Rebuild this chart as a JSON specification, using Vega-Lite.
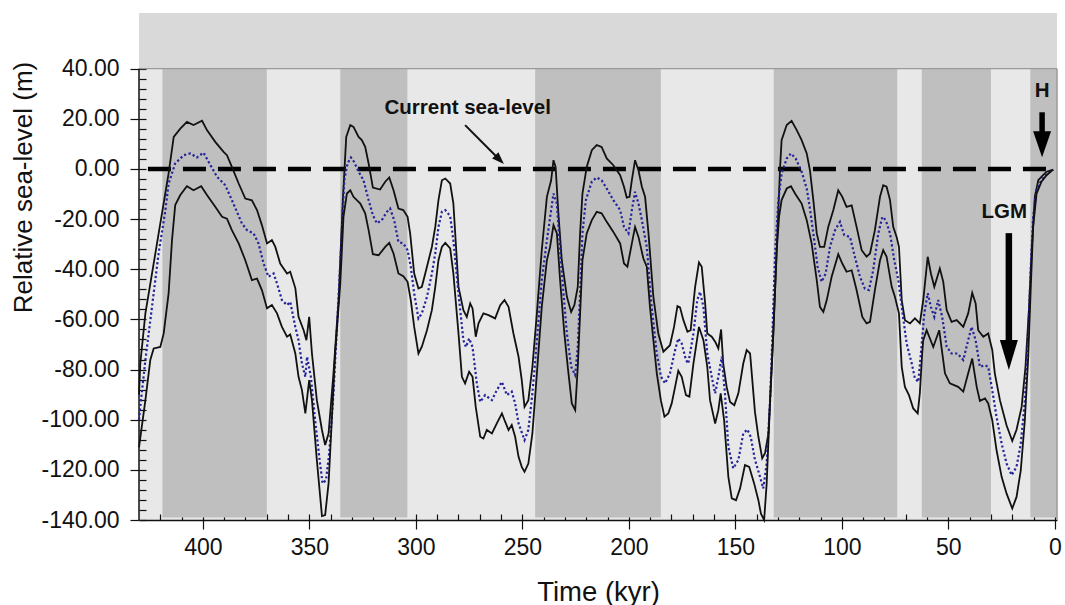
{
  "$schema": "https://vega.github.io/schema/vega-lite/v6.json",
  "width": 918,
  "height": 507,
  "autosize": {"type": "none"},
  "padding": {"left": 139, "top": 13, "right": 8, "bottom": 85},
  "background": "white",
  "config": {
    "font": "Liberation Sans",
    "view": {"stroke": null, "fill": "#e8e8e8"},
    "axis": {"grid": false, "labelColor": "#111", "titleColor": "#111", "tickColor": "#111", "domainColor": "#111", "titleFontWeight": "normal", "labelFlush": false, "labelOverlap": false}
  },
  "datasets": {
    "upper": [{"t":430,"v":-90},{"t":429.4,"v":-77.6},{"t":427,"v":-57.6},{"t":416.1,"v":-1.8},{"t":413.7,"v":12.8},{"t":410.6,"v":16.1},{"t":407.5,"v":18.8},{"t":404.4,"v":17.5},{"t":400.4,"v":19.2},{"t":398.1,"v":15.5},{"t":394.2,"v":10.8},{"t":390.3,"v":6.8},{"t":388.7,"v":5.5},{"t":386.4,"v":0.8},{"t":383.2,"v":-5.8},{"t":380.1,"v":-11.8},{"t":377,"v":-12.5},{"t":374.6,"v":-16.4},{"t":372.3,"v":-22.4},{"t":369.9,"v":-29.7},{"t":367.6,"v":-28.4},{"t":366,"v":-31.1},{"t":363.7,"v":-37.7},{"t":360.5,"v":-41.7},{"t":359,"v":-41},{"t":356.6,"v":-47.5},{"t":355.1,"v":-59},{"t":352.7,"v":-64.3},{"t":351.4,"v":-68.3},{"t":350.1,"v":-59},{"t":348.8,"v":-73.6},{"t":346.5,"v":-92.2},{"t":344.1,"v":-104.1},{"t":342.6,"v":-110.1},{"t":341,"v":-105.5},{"t":338.7,"v":-81.5},{"t":336.3,"v":-52.3},{"t":334.3,"v":-12.4},{"t":332.7,"v":12.8},{"t":330.8,"v":17.5},{"t":329.3,"v":16.8},{"t":326.9,"v":12.8},{"t":325.4,"v":11.5},{"t":323.8,"v":8.8},{"t":322.2,"v":2.2},{"t":320.2,"v":-7.4},{"t":316.8,"v":-8.2},{"t":314.4,"v":-5.1},{"t":312.5,"v":-3.4},{"t":310.5,"v":-8.5},{"t":308.2,"v":-15.8},{"t":305.9,"v":-16.4},{"t":303.9,"v":-19.1},{"t":302.7,"v":-25.7},{"t":300.8,"v":-41.7},{"t":298.8,"v":-47.7},{"t":297.2,"v":-47},{"t":294.8,"v":-39},{"t":292.5,"v":-31.1},{"t":290.9,"v":-23.1},{"t":289.4,"v":-12.4},{"t":287.8,"v":-4.5},{"t":286.2,"v":-3.8},{"t":283.9,"v":-5.8},{"t":282.4,"v":-13.8},{"t":280,"v":-47},{"t":277.7,"v":-56.3},{"t":276.1,"v":-59},{"t":274.5,"v":-53.6},{"t":273.4,"v":-55.6},{"t":271.9,"v":-66.9},{"t":270.6,"v":-61.6},{"t":268.3,"v":-57.6},{"t":265.9,"v":-58.3},{"t":262.8,"v":-59.6},{"t":260.4,"v":-54.3},{"t":258.4,"v":-52.3},{"t":256.5,"v":-55},{"t":254.2,"v":-65.6},{"t":251.8,"v":-74.9},{"t":250.3,"v":-84.2},{"t":249,"v":-94.9},{"t":247.2,"v":-92.2},{"t":245.3,"v":-78.9},{"t":243.2,"v":-57.6},{"t":240.9,"v":-32.4},{"t":238.5,"v":-11.1},{"t":236.5,"v":-4.5},{"t":235.4,"v":3.5},{"t":234.4,"v":0.8},{"t":233.1,"v":-17.7},{"t":231.5,"v":-36.4},{"t":229.1,"v":-51},{"t":227.1,"v":-57},{"t":225.6,"v":-54.3},{"t":224,"v":-47},{"t":222.9,"v":-25.7},{"t":221.8,"v":-9.8},{"t":219.8,"v":0.8},{"t":217.4,"v":7.5},{"t":215.1,"v":9.5},{"t":212.8,"v":8.8},{"t":210.4,"v":4.2},{"t":207.3,"v":1.5},{"t":204.1,"v":-2.5},{"t":202.3,"v":-7.1},{"t":201,"v":-11.4},{"t":199.7,"v":-11.1},{"t":198.6,"v":-4.5},{"t":197.1,"v":3.5},{"t":195.5,"v":-0.5},{"t":193.9,"v":-7.1},{"t":192.4,"v":-11.1},{"t":190.8,"v":-25.7},{"t":188.5,"v":-51},{"t":186.2,"v":-65.6},{"t":183.8,"v":-72.9},{"t":180.7,"v":-70.3},{"t":178.8,"v":-63},{"t":177.2,"v":-54.7},{"t":176,"v":-55.2},{"t":174.4,"v":-60.3},{"t":172.5,"v":-64.9},{"t":171,"v":-64.3},{"t":168.9,"v":-47},{"t":167.1,"v":-37.3},{"t":165.8,"v":-39},{"t":164.2,"v":-53.6},{"t":163.2,"v":-65.6},{"t":161.1,"v":-66.9},{"t":159.5,"v":-68.9},{"t":158,"v":-71.6},{"t":156.7,"v":-64},{"t":155.7,"v":-77.6},{"t":154.1,"v":-86.9},{"t":152.5,"v":-92.9},{"t":150.5,"v":-94.2},{"t":148.6,"v":-89.5},{"t":146.3,"v":-77.6},{"t":144.7,"v":-72.2},{"t":143.1,"v":-73.6},{"t":140.8,"v":-97},{"t":139.2,"v":-106.8},{"t":137.4,"v":-115.4},{"t":136.1,"v":-113.4},{"t":134.5,"v":-105.5},{"t":133.3,"v":-85.5},{"t":132.2,"v":-65.6},{"t":130.6,"v":-32.4},{"t":129,"v":0.8},{"t":128.3,"v":11.5},{"t":125.9,"v":17.5},{"t":123.6,"v":19.2},{"t":121.2,"v":15.5},{"t":118.9,"v":11.5},{"t":116.5,"v":6.2},{"t":115,"v":-0.5},{"t":113.4,"v":-12.4},{"t":111.8,"v":-25.7},{"t":110.3,"v":-31.1},{"t":108.3,"v":-31.1},{"t":106.4,"v":-23.1},{"t":104,"v":-16.4},{"t":101.7,"v":-8.5},{"t":99.8,"v":-11.1},{"t":97.8,"v":-15.1},{"t":95.4,"v":-14.5},{"t":93.1,"v":-23.1},{"t":90.7,"v":-32.4},{"t":88.4,"v":-35},{"t":86.8,"v":-33.7},{"t":84.5,"v":-24.4},{"t":82.1,"v":-11.1},{"t":80.6,"v":-6.5},{"t":79,"v":-7.1},{"t":77.4,"v":-12.4},{"t":75.9,"v":-23.1},{"t":74.3,"v":-27.1},{"t":73.2,"v":-31.1},{"t":71.9,"v":-52.3},{"t":70.4,"v":-60.3},{"t":68,"v":-61.6},{"t":65.7,"v":-59.6},{"t":63.4,"v":-61.6},{"t":61.8,"v":-52.3},{"t":59.7,"v":-35},{"t":58.2,"v":-41.7},{"t":56.6,"v":-47},{"t":54,"v":-39.7},{"t":52.4,"v":-45},{"t":50.8,"v":-56.3},{"t":48.5,"v":-61},{"t":46.1,"v":-60.3},{"t":43,"v":-63},{"t":40.7,"v":-57.6},{"t":38.8,"v":-49.4},{"t":37.2,"v":-53.6},{"t":36,"v":-64.3},{"t":33.6,"v":-66.9},{"t":31.3,"v":-65.6},{"t":29.4,"v":-72.2},{"t":28.2,"v":-81.5},{"t":25.8,"v":-92.2},{"t":22.7,"v":-102.2},{"t":20,"v":-108.5},{"t":18,"v":-104},{"t":15.6,"v":-94.9},{"t":13.8,"v":-78.9},{"t":12.2,"v":-56.3},{"t":10.9,"v":-32.4},{"t":9.4,"v":-11.1},{"t":7.8,"v":-4.5},{"t":6,"v":-2.9},{"t":3.9,"v":-1.1},{"t":1.5,"v":-0.5},{"t":0.8,"v":-0.2}],
    "lower": [{"t":430,"v":-111},{"t":427,"v":-92.2},{"t":424.7,"v":-76.2},{"t":423.1,"v":-71.6},{"t":420,"v":-71},{"t":418.4,"v":-65.6},{"t":416.1,"v":-49.6},{"t":414.5,"v":-28.4},{"t":413,"v":-14.4},{"t":410.6,"v":-10.4},{"t":407.5,"v":-6.9},{"t":404.4,"v":-8.5},{"t":400.8,"v":-6.9},{"t":398.1,"v":-10.4},{"t":394.2,"v":-15.1},{"t":391,"v":-19.1},{"t":388.7,"v":-19.8},{"t":386.4,"v":-24.4},{"t":383.2,"v":-29.7},{"t":380.1,"v":-36.4},{"t":377,"v":-44.3},{"t":374.6,"v":-43.7},{"t":372.3,"v":-48.3},{"t":369.9,"v":-55.6},{"t":367.6,"v":-54.3},{"t":365.2,"v":-57.6},{"t":362.9,"v":-63},{"t":360.5,"v":-66.9},{"t":359,"v":-66},{"t":356.6,"v":-73.6},{"t":355.1,"v":-82.9},{"t":353.5,"v":-88.2},{"t":351.9,"v":-97.5},{"t":350.1,"v":-84.2},{"t":348.8,"v":-92.2},{"t":346.5,"v":-116.1},{"t":344.1,"v":-138.4},{"t":342.6,"v":-138},{"t":341,"v":-125.4},{"t":339.4,"v":-98.8},{"t":337.9,"v":-73.6},{"t":335.5,"v":-45.7},{"t":334,"v":-19.1},{"t":332.4,"v":-9.8},{"t":330.8,"v":-8.5},{"t":329.3,"v":-11.1},{"t":326.1,"v":-13.8},{"t":323.8,"v":-17.7},{"t":322.2,"v":-24.4},{"t":320.2,"v":-34},{"t":317.5,"v":-34.4},{"t":314.4,"v":-31.1},{"t":312.5,"v":-29.5},{"t":310.5,"v":-33.7},{"t":308.2,"v":-41.7},{"t":305.9,"v":-42.8},{"t":303.9,"v":-45},{"t":302.4,"v":-52.3},{"t":300.8,"v":-63},{"t":298.8,"v":-73.6},{"t":297.2,"v":-70.9},{"t":294.8,"v":-64.3},{"t":292.5,"v":-56.3},{"t":290.9,"v":-47},{"t":289.4,"v":-36.4},{"t":287.8,"v":-31.1},{"t":286.2,"v":-29.5},{"t":283.9,"v":-31.7},{"t":282.4,"v":-41.7},{"t":280,"v":-65.6},{"t":278.4,"v":-82.9},{"t":276.9,"v":-85.5},{"t":275,"v":-80.9},{"t":273.4,"v":-82.9},{"t":271.9,"v":-94.9},{"t":269.8,"v":-106.8},{"t":268.3,"v":-107.5},{"t":266.7,"v":-104.1},{"t":264.3,"v":-105.5},{"t":262,"v":-101.5},{"t":259.6,"v":-97.5},{"t":258.1,"v":-100.8},{"t":256.5,"v":-104.1},{"t":255,"v":-102.1},{"t":253.4,"v":-106.8},{"t":251.8,"v":-114.8},{"t":250.3,"v":-118.8},{"t":249,"v":-120.8},{"t":247.2,"v":-117.5},{"t":245.3,"v":-105.5},{"t":243.2,"v":-81.6},{"t":240.9,"v":-55},{"t":238.5,"v":-36.4},{"t":237,"v":-31.1},{"t":235.4,"v":-22.4},{"t":233.8,"v":-25.7},{"t":232.3,"v":-44.3},{"t":230.3,"v":-65.6},{"t":228.7,"v":-78.9},{"t":226.8,"v":-93.5},{"t":225.2,"v":-96.2},{"t":224,"v":-78.9},{"t":222.9,"v":-57.6},{"t":221.8,"v":-36.4},{"t":219.8,"v":-25.7},{"t":217.4,"v":-20.4},{"t":215.1,"v":-17.1},{"t":212.8,"v":-17.7},{"t":210.4,"v":-21.1},{"t":207.3,"v":-25.1},{"t":204.1,"v":-29.7},{"t":202.3,"v":-37.7},{"t":200.7,"v":-39},{"t":198.6,"v":-29.7},{"t":197.1,"v":-23.1},{"t":195.5,"v":-27.1},{"t":193.2,"v":-35.7},{"t":191.6,"v":-39},{"t":190.1,"v":-55},{"t":188.5,"v":-68.3},{"t":186.9,"v":-81.5},{"t":185,"v":-92.2},{"t":183.3,"v":-98.8},{"t":181.5,"v":-97.5},{"t":179.9,"v":-93.5},{"t":178.3,"v":-86.9},{"t":176.8,"v":-80.5},{"t":175.2,"v":-82.9},{"t":173.2,"v":-90.2},{"t":171.6,"v":-90.8},{"t":169.7,"v":-77.6},{"t":167.1,"v":-63},{"t":165,"v":-68.3},{"t":163.2,"v":-78.9},{"t":161.9,"v":-92.2},{"t":159.5,"v":-101.5},{"t":158,"v":-96.2},{"t":156.9,"v":-89.5},{"t":155.3,"v":-100.2},{"t":153.3,"v":-122.8},{"t":151.7,"v":-131.4},{"t":149.7,"v":-132.1},{"t":147.8,"v":-127.4},{"t":145.5,"v":-118.1},{"t":143.5,"v":-118.8},{"t":141.2,"v":-125.4},{"t":139.2,"v":-132.1},{"t":138,"v":-137.5},{"t":136.5,"v":-140},{"t":135.3,"v":-125.4},{"t":133.7,"v":-92.2},{"t":132.2,"v":-65.6},{"t":130.6,"v":-32.4},{"t":129.5,"v":-19.1},{"t":128.3,"v":-12.4},{"t":125.9,"v":-7.8},{"t":123.9,"v":-6.9},{"t":122,"v":-9.8},{"t":118.9,"v":-13.8},{"t":116.5,"v":-20.4},{"t":114.2,"v":-29.7},{"t":111.8,"v":-44.3},{"t":110.3,"v":-55},{"t":108.7,"v":-57},{"t":107.1,"v":-52.3},{"t":104.8,"v":-43},{"t":101.7,"v":-34},{"t":99.8,"v":-37.7},{"t":97.8,"v":-41},{"t":95.4,"v":-40.4},{"t":93.1,"v":-48.3},{"t":90.4,"v":-59},{"t":88.4,"v":-61.6},{"t":86.8,"v":-61},{"t":84.5,"v":-48.3},{"t":82.1,"v":-36.4},{"t":80.6,"v":-32.4},{"t":79,"v":-35},{"t":76.6,"v":-47},{"t":75.1,"v":-51},{"t":73.2,"v":-57.6},{"t":71.9,"v":-78.9},{"t":70.4,"v":-86.9},{"t":68.5,"v":-90.2},{"t":66.5,"v":-95.5},{"t":64.4,"v":-97.5},{"t":63.4,"v":-89.5},{"t":62.3,"v":-73.6},{"t":61.8,"v":-68.3},{"t":60.2,"v":-64.3},{"t":57.1,"v":-71},{"t":54.3,"v":-64.3},{"t":51.6,"v":-81.5},{"t":49.3,"v":-85.5},{"t":45.4,"v":-86.9},{"t":43,"v":-88.8},{"t":40.7,"v":-81.5},{"t":38.8,"v":-75.6},{"t":36.7,"v":-86.9},{"t":35.2,"v":-92.5},{"t":32.8,"v":-91.5},{"t":31.3,"v":-93.5},{"t":29.4,"v":-100.2},{"t":27.4,"v":-112.1},{"t":25,"v":-122.8},{"t":22.7,"v":-129.4},{"t":20,"v":-135.4},{"t":18,"v":-130.8},{"t":16,"v":-120.1},{"t":14.1,"v":-100.2},{"t":12.5,"v":-74.9},{"t":11.3,"v":-47},{"t":10.2,"v":-23.1},{"t":8.6,"v":-9.8},{"t":6.3,"v":-5.1},{"t":3.9,"v":-2.5},{"t":1.5,"v":-0.7},{"t":0.8,"v":-0.3}],
    "mean": [{"t":430,"v":-100},{"t":429.4,"v":-94.9},{"t":427,"v":-76.2},{"t":423.9,"v":-55},{"t":420.8,"v":-33.7},{"t":417.6,"v":-16.4},{"t":416.1,"v":-5.8},{"t":413,"v":2.2},{"t":409,"v":5.5},{"t":405.9,"v":6.2},{"t":402.8,"v":4.6},{"t":399.7,"v":6.5},{"t":397.3,"v":2.8},{"t":393.4,"v":-3.1},{"t":389.5,"v":-6.5},{"t":386.4,"v":-12.4},{"t":381.7,"v":-21.7},{"t":379.3,"v":-24.4},{"t":376.2,"v":-25.7},{"t":373.9,"v":-29.7},{"t":371.5,"v":-37.7},{"t":369.2,"v":-43},{"t":366.8,"v":-41.7},{"t":365.2,"v":-45.7},{"t":362.9,"v":-52.3},{"t":360.5,"v":-54.3},{"t":359,"v":-53},{"t":356.6,"v":-63},{"t":355.1,"v":-68.3},{"t":353.5,"v":-77.6},{"t":351.9,"v":-82.9},{"t":351.1,"v":-74.9},{"t":349.3,"v":-82.9},{"t":347.3,"v":-100.2},{"t":345.2,"v":-116.1},{"t":343.8,"v":-125.4},{"t":342.2,"v":-124.1},{"t":340.7,"v":-113.4},{"t":338.7,"v":-89.5},{"t":336.8,"v":-59},{"t":335.2,"v":-32.4},{"t":333.6,"v":-4.5},{"t":332.1,"v":2.2},{"t":330.5,"v":4.6},{"t":329,"v":2.8},{"t":326.9,"v":-1.1},{"t":324.6,"v":-4.5},{"t":322.2,"v":-12.4},{"t":320.2,"v":-18.4},{"t":318.3,"v":-21.7},{"t":316,"v":-20.4},{"t":313.6,"v":-17.1},{"t":312.1,"v":-15.8},{"t":310.2,"v":-20.4},{"t":308.2,"v":-29.1},{"t":305.9,"v":-29.7},{"t":303.9,"v":-32.4},{"t":302.4,"v":-39},{"t":300.8,"v":-49.6},{"t":298.8,"v":-59.6},{"t":297.2,"v":-57.6},{"t":294.8,"v":-51},{"t":292.5,"v":-41.7},{"t":290.9,"v":-33.7},{"t":289.4,"v":-23.1},{"t":287.8,"v":-17.1},{"t":286.2,"v":-16.4},{"t":283.9,"v":-18.8},{"t":282.4,"v":-28.4},{"t":280,"v":-49.6},{"t":277.7,"v":-68.3},{"t":276.5,"v":-71},{"t":275,"v":-67.6},{"t":273.4,"v":-71},{"t":271.4,"v":-85.5},{"t":269.8,"v":-92.9},{"t":267.5,"v":-90.2},{"t":264.3,"v":-92.2},{"t":262,"v":-88.2},{"t":259.6,"v":-84.9},{"t":257.3,"v":-90.2},{"t":255,"v":-88.8},{"t":253.4,"v":-93.5},{"t":251.8,"v":-101.5},{"t":249,"v":-108.1},{"t":247.2,"v":-104.1},{"t":245.3,"v":-89.5},{"t":243.2,"v":-68.3},{"t":240.9,"v":-44.3},{"t":238.5,"v":-28.4},{"t":236.5,"v":-16.4},{"t":235.4,"v":-9.8},{"t":233.8,"v":-13.8},{"t":232.3,"v":-32.4},{"t":230.7,"v":-49.6},{"t":229.1,"v":-65.6},{"t":227.1,"v":-78.9},{"t":225.2,"v":-82.2},{"t":224,"v":-71},{"t":222.9,"v":-49.6},{"t":221.8,"v":-25.7},{"t":220.2,"v":-12.4},{"t":217.4,"v":-5.1},{"t":215.1,"v":-3.4},{"t":212.8,"v":-4.5},{"t":210.4,"v":-7.8},{"t":207.3,"v":-12.4},{"t":204.1,"v":-16.4},{"t":202.3,"v":-23.1},{"t":200.2,"v":-25.7},{"t":198.6,"v":-16.4},{"t":197.1,"v":-9.1},{"t":195.5,"v":-13.8},{"t":193.9,"v":-20.4},{"t":191.6,"v":-31.1},{"t":189.3,"v":-55},{"t":186.9,"v":-73.6},{"t":184.9,"v":-82.9},{"t":183,"v":-85.5},{"t":180.7,"v":-81.5},{"t":178.3,"v":-72.2},{"t":176.8,"v":-67.6},{"t":175.2,"v":-69.6},{"t":173.2,"v":-76.2},{"t":172.1,"v":-77.6},{"t":169.7,"v":-65.6},{"t":167.9,"v":-52.3},{"t":166.6,"v":-49},{"t":165,"v":-55},{"t":163.2,"v":-73.6},{"t":161.1,"v":-82.9},{"t":159.5,"v":-89.5},{"t":158,"v":-82.9},{"t":156.4,"v":-74.9},{"t":154.9,"v":-89.5},{"t":153.3,"v":-110.8},{"t":151,"v":-119.4},{"t":148.6,"v":-116.1},{"t":146.3,"v":-105.5},{"t":144.4,"v":-103.9},{"t":142.8,"v":-106.8},{"t":140.8,"v":-116},{"t":138.9,"v":-121.4},{"t":136.9,"v":-127.4},{"t":135.3,"v":-117.4},{"t":133.7,"v":-92.2},{"t":132.7,"v":-68.3},{"t":131.4,"v":-34},{"t":129.8,"v":-12.4},{"t":128.3,"v":-1.8},{"t":125.9,"v":4.2},{"t":123.9,"v":6.2},{"t":121.7,"v":4.2},{"t":118.9,"v":-1.1},{"t":116.5,"v":-7.8},{"t":115,"v":-15.8},{"t":113.4,"v":-25.7},{"t":111.4,"v":-39},{"t":109.5,"v":-45},{"t":107.6,"v":-41.7},{"t":105.6,"v":-31.1},{"t":103.2,"v":-24.4},{"t":100.9,"v":-21.1},{"t":98.9,"v":-26.4},{"t":96.2,"v":-27.1},{"t":93.9,"v":-35},{"t":91.5,"v":-43},{"t":89.2,"v":-47.7},{"t":87.3,"v":-48.3},{"t":85.3,"v":-40.4},{"t":82.9,"v":-25.7},{"t":81,"v":-19.1},{"t":79.4,"v":-20.4},{"t":77.4,"v":-25.7},{"t":75.4,"v":-36.4},{"t":73.5,"v":-44.3},{"t":71.9,"v":-55},{"t":69.6,"v":-69.6},{"t":67.2,"v":-77.6},{"t":65.7,"v":-83.5},{"t":64.1,"v":-84.9},{"t":62.9,"v":-73.6},{"t":61.3,"v":-57.6},{"t":59.7,"v":-49.6},{"t":58.2,"v":-55},{"t":56.6,"v":-59},{"t":54.8,"v":-52.3},{"t":52.9,"v":-59},{"t":50.8,"v":-70.9},{"t":48.5,"v":-73.6},{"t":45.7,"v":-73.6},{"t":43,"v":-76.2},{"t":40.7,"v":-68.3},{"t":39.1,"v":-63},{"t":37.2,"v":-68.3},{"t":35.2,"v":-78.9},{"t":32.8,"v":-78.3},{"t":31.3,"v":-78.9},{"t":29.4,"v":-88.2},{"t":27.4,"v":-98.8},{"t":25,"v":-109.5},{"t":22.7,"v":-117.4},{"t":20.3,"v":-122.1},{"t":18,"v":-118.8},{"t":16,"v":-109.5},{"t":14.1,"v":-92.2},{"t":12.5,"v":-65.6},{"t":11.3,"v":-39},{"t":10.2,"v":-19.1},{"t":8.6,"v":-7.8},{"t":6.3,"v":-4.5},{"t":3.9,"v":-2.1},{"t":1.5,"v":-0.7},{"t":0.8,"v":-0.3}],
    "stages": [{"t":419,"t2":370},{"t":335.5,"t2":304},{"t":244,"t2":185},{"t":132,"t2":74},{"t":62.5,"t2":30},{"t":11.5,"t2":-1}],
    "labels": [{"t": 275.7, "v": 24.2, "label": "Current sea-level"}, {"t": 6.0, "v": 31.1, "label": "H"}, {"t": 23.8, "v": -17.1, "label": "LGM"}]
  },
  "resolve": {"axis": {"x": "independent", "y": "independent"}},
  "layer": [
    {
      "layer": [
        {
          "data": {"values": [{}]},
          "mark": {"type": "rect", "color": "#d9d9d9"},
          "encoding": {
            "x": {"datum": 430, "type": "quantitative"}, "x2": {"datum": -1},
            "y": {"datum": 40, "type": "quantitative"}, "y2": {"datum": 62.2}
          }
        },
        {
          "data": {"name": "stages"},
          "mark": {"type": "rect", "color": "#bfbfbf"},
          "encoding": {
            "x": {"field": "t", "type": "quantitative"}, "x2": {"field": "t2"},
            "y": {"datum": -139, "type": "quantitative"}, "y2": {"datum": 40}
          }
        },
        {
          "data": {"values": [{}]},
          "mark": {"type": "rule", "color": "#9a9a9a", "strokeWidth": 1.2},
          "encoding": {"x": {"datum": 430, "type": "quantitative"}, "x2": {"datum": -1}, "y": {"datum": 40, "type": "quantitative"}}
        },
        {
          "data": {"values": [{}]},
          "mark": {"type": "rule", "color": "#9a9a9a", "strokeWidth": 1.5},
          "encoding": {"x": {"datum": -1, "type": "quantitative"}, "y": {"datum": -140, "type": "quantitative"}, "y2": {"datum": 40}}
        },
        {
          "data": {"values": [{}]},
          "mark": {"type": "rule", "color": "#111", "strokeWidth": 1.5},
          "encoding": {"x": {"datum": 430, "type": "quantitative"}, "y": {"datum": -140, "type": "quantitative"}, "y2": {"datum": 40}}
        },
        {
          "data": {"values": [{}]},
          "mark": {"type": "rule", "color": "#000", "strokeWidth": 4.5, "strokeDash": [23, 12]},
          "encoding": {"x": {"datum": 425.8, "type": "quantitative"}, "x2": {"datum": 0.5}, "y": {"datum": 0, "type": "quantitative"}}
        },
        {
          "data": {"name": "upper"},
          "mark": {"type": "line", "color": "#111", "strokeWidth": 1.8},
          "encoding": {
            "x": {
              "field": "t", "type": "quantitative",
              "scale": {"domain": [430, -1], "nice": false, "zero": false},
              "axis": {
                "orient": "bottom",
                "title": "Time (kyr)",
                "values": [0, 50, 100, 150, 200, 250, 300, 350, 400],
                "labelExpr": "'' + datum.value",
                "tickSize": 9,
                "tickWidth": 1.2,
                "domainWidth": 1.5,
                "labelFontSize": 23,
                "labelPadding": 7,
                "titleFontSize": 27.5,
                "titleX": 459,
                "titleY": 80,
                "titleBaseline": "alphabetic"
              }
            },
            "y": {
              "field": "v", "type": "quantitative",
              "scale": {"domain": [-140, 62.2], "nice": false, "zero": false},
              "axis": {
                "orient": "left",
                "title": "Relative sea-level (m)",
                "values": [-140, -120, -100, -80, -60, -40, -20, 0, 20, 40],
                "labelExpr": "(datum.value < 0 ? '-' : '') + format(abs(datum.value), '.2f')",
                "tickSize": 9,
                "tickWidth": 1.2,
                "domain": false,
                "labelFontSize": 23,
                "labelPadding": 11,
                "titleFontSize": 26,
                "titleAngle": -90,
                "titleAlign": "center",
                "titleBaseline": "alphabetic",
                "titleX": -108,
                "titleY": 174
              }
            }
          }
        },
        {
          "data": {"name": "mean"},
          "mark": {"type": "line", "color": "#23239a", "strokeWidth": 2.2, "strokeDash": [2.2, 2.4]},
          "encoding": {"x": {"field": "t", "type": "quantitative"}, "y": {"field": "v", "type": "quantitative"}}
        },
        {
          "data": {"name": "labels"},
          "mark": {"type": "text", "fontWeight": "bold", "fontSize": 20.5, "align": "center", "baseline": "middle", "color": "#111"},
          "encoding": {"x": {"field": "t", "type": "quantitative"}, "y": {"field": "v", "type": "quantitative"}, "text": {"field": "label"}}
        },
        {
          "data": {"values": [{"t": 276.9, "v": 17.5, "t2": 260.7, "v2": 3.7}]},
          "mark": {"type": "rule", "color": "#111", "strokeWidth": 2},
          "encoding": {"x": {"field": "t", "type": "quantitative"}, "y": {"field": "v", "type": "quantitative"}, "x2": {"field": "t2"}, "y2": {"field": "v2"}}
        },
        {
          "data": {"values": [{"t": 260.7, "v": 3.7}]},
          "mark": {"type": "point", "shape": "M0,1L-0.72,-1L0.72,-1Z", "filled": true, "color": "#111", "opacity": 1, "size": 150, "angle": -45},
          "encoding": {"x": {"field": "t", "type": "quantitative"}, "y": {"field": "v", "type": "quantitative"}}
        },
        {
          "data": {"values": [{"t": 6.0, "v": 22.6, "t2": 6.0, "v2": 11}]},
          "mark": {"type": "rule", "color": "#000", "strokeWidth": 5.5},
          "encoding": {"x": {"field": "t", "type": "quantitative"}, "y": {"field": "v", "type": "quantitative"}, "x2": {"field": "t2"}, "y2": {"field": "v2"}}
        },
        {
          "data": {"values": [{"t": 6.0, "v": 9.9}]},
          "mark": {"type": "point", "shape": "M0,1L-0.69,-1L0.69,-1Z", "filled": true, "color": "#000", "opacity": 1, "size": 676},
          "encoding": {"x": {"field": "t", "type": "quantitative"}, "y": {"field": "v", "type": "quantitative"}}
        },
        {
          "data": {"values": [{"t": 21.6, "v": -25.6, "t2": 21.6, "v2": -73}]},
          "mark": {"type": "rule", "color": "#000", "strokeWidth": 6.5},
          "encoding": {"x": {"field": "t", "type": "quantitative"}, "y": {"field": "v", "type": "quantitative"}, "x2": {"field": "t2"}, "y2": {"field": "v2"}}
        },
        {
          "data": {"values": [{"t": 21.6, "v": -74.2}]},
          "mark": {"type": "point", "shape": "M0,1L-0.6,-1L0.6,-1Z", "filled": true, "color": "#000", "opacity": 1, "size": 900},
          "encoding": {"x": {"field": "t", "type": "quantitative"}, "y": {"field": "v", "type": "quantitative"}}
        }
      ]
    },
    {
      "data": {"name": "lower"},
      "mark": {"type": "line", "color": "#111", "strokeWidth": 1.8},
      "encoding": {
        "x": {
          "field": "t", "type": "quantitative",
          "axis": {
            "orient": "bottom", "title": null, "labels": false, "domain": false,
            "values": [0,10,20,30,40,50,60,70,80,90,100,110,120,130,140,150,160,170,180,190,200,210,220,230,240,250,260,270,280,290,300,310,320,330,340,350,360,370,380,390,400,410,420],
            "tickSize": 6, "tickWidth": 1.2, "offset": -6
          }
        },
        "y": {
          "field": "v", "type": "quantitative",
          "axis": {
            "orient": "left", "title": null, "labels": false, "domain": false,
            "values": [-140,-136,-132,-128,-124,-120,-116,-112,-108,-104,-100,-96,-92,-88,-84,-80,-76,-72,-68,-64,-60,-56,-52,-48,-44,-40,-36,-32,-28,-24,-20,-16,-12,-8,-4,0,4,8,12,16,20,24,28,32,36,40],
            "tickSize": 7, "tickWidth": 1.2, "offset": -7
          }
        }
      }
    }
  ]
}
